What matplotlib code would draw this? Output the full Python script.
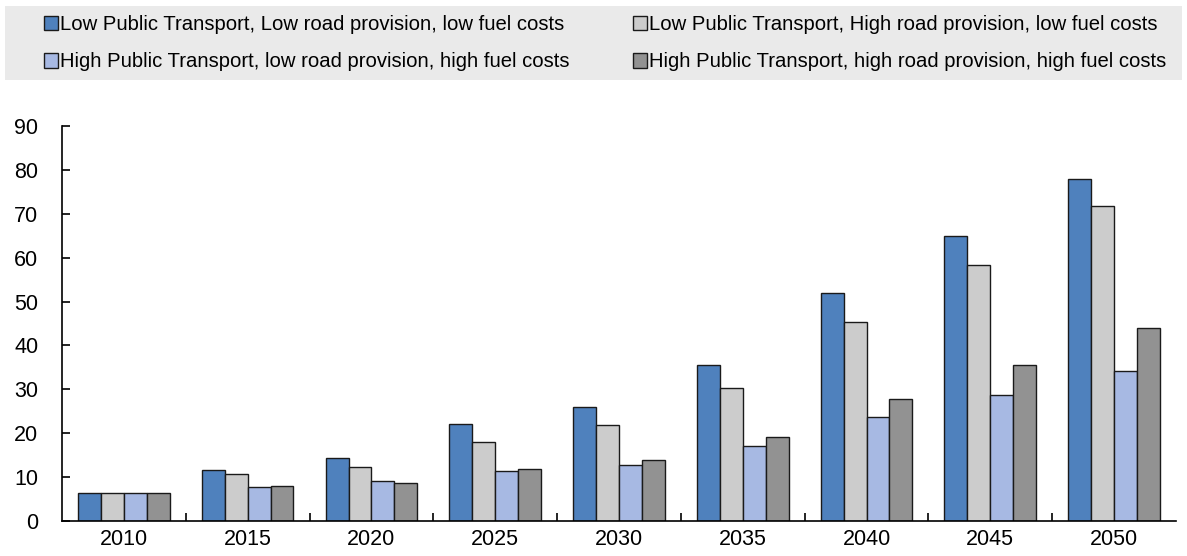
import numpy as np
import matplotlib.pyplot as plt
from matplotlib.patches import Rectangle

plt.rcParams['font.family'] = ['Liberation Sans', 'DejaVu Sans']

years = ['2010', '2015', '2020', '2025', '2030', '2035', '2040', '2045', '2050']
labels = [
    'Low Public Transport, Low road provision, low fuel costs',
    'Low Public Transport, High road provision, low fuel costs',
    'High Public Transport, low road provision, high fuel costs',
    'High Public Transport, high road provision, high fuel costs',
]
low_pt_low_road = [6.3, 11.6, 14.4, 22.1, 26.0, 35.5, 51.9, 64.9, 77.9]
low_pt_high_road = [6.3, 10.7, 12.3, 18.0, 21.9, 30.2, 45.4, 58.3, 71.8]
high_pt_low_road = [6.3, 7.8, 9.2, 11.5, 12.8, 17.0, 23.6, 28.7, 34.2]
high_pt_high_road = [6.3, 8.0, 8.7, 11.8, 13.8, 19.1, 27.8, 35.6, 44.0]

series = [low_pt_low_road, low_pt_high_road, high_pt_low_road, high_pt_high_road]
colors = ['#4F81BD', '#CCCCCC', '#A7B9E3', '#929292']

fig = plt.figure(figsize=(11.87, 5.56), dpi=100)
ax = fig.add_axes([0.0522, 0.0629, 0.9385, 0.7105])

x = np.arange(len(years))
w = 0.185
bars = []
for i, (vals, c) in enumerate(zip(series, colors)):
    b = ax.bar(x + (i - 1.5) * w, vals, width=w, color=c, edgecolor='#1a1a1a', linewidth=1, zorder=2)
    bars.append(b)

ax.set_xlim(-0.5, len(years) - 0.5)
ax.set_ylim(0, 90)
ax.set_yticks(np.arange(0, 91, 10))
ax.set_xticks(x)
ax.set_xticklabels(years)
ax.set_xticks(np.arange(0.5, len(years) - 0.5, 1), minor=True)
ax.tick_params(axis='x', which='major', length=0, pad=6, labelsize=15.5)
ax.tick_params(axis='x', which='minor', direction='in', length=6, width=1.2)
ax.tick_params(axis='y', direction='in', length=6, width=1.2, pad=17, labelsize=15.5)
for s in ['top', 'right']:
    ax.spines[s].set_visible(False)
for s in ['left', 'bottom']:
    ax.spines[s].set_linewidth(1.2)

# legend band
fig.patches.append(Rectangle((0.004, 0.856), 0.992, 0.133, transform=fig.transFigure,
                             facecolor='#EAEAEA', edgecolor='none', zorder=0))
order = [0, 2, 1, 3]
fig.legend([bars[i] for i in order], [labels[i] for i in order], ncol=2,
           loc='center', bbox_to_anchor=(0.5097, 0.922), frameon=False,
           fontsize=14.6, handlelength=0.72, handleheight=0.72,
           handletextpad=0.1, borderaxespad=0, labelspacing=0.9,
           columnspacing=3.1, borderpad=0)

fig.savefig('out.png', dpi=100)
